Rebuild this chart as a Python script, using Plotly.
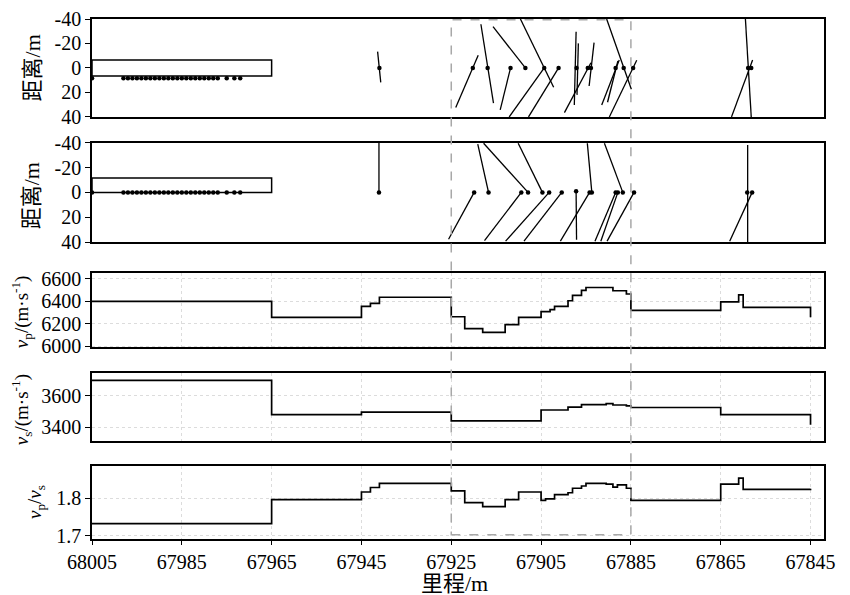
import plotly.graph_objects as go

# ---------------- data ----------------
# Panel 1 (top): segments (x0, y0, x1, y1) and dots
p1_x0 = [67941.4, 67924.0, 67918.4, 67911.8, 67915.7, 67909.6, 67912.1, 67907.8, 67897.2, 67896.7,
         67899.8, 67893.2, 67890.4, 67891.5, 67890.2, 67889.8, 67859.5, 67862.6]
p1_y0 = [-13.3, 32.4, -35.7, 0, -33.7, -40, 40, 40, -29.6, -20.1, 36.5, -20.7, -40, 30.2, 28, 40, -40, 40]
p1_x1 = [67940.7, 67919.0, 67915.6, 67914.1, 67908.5, 67902.2, 67904.3, 67901.1, 67897.6, 67897.0,
         67893.9, 67894.3, 67884.9, 67887.6, 67887.9, 67883.7, 67858.2, 67857.9]
p1_y1 = [11.8, -10.4, 28.8, 34.3, 0, 15.8, 0, 0, 30.2, 22, -4.3, 14.7, 17.4, -6.5, -5.7, -6.3, 40, -6.5]
p1_dot_x = [67941, 67920.2, 67916.9, 67911.8, 67908.5, 67904.3, 67901.1, 67897.1, 67894.6, 67893.9,
            67888.4, 67886.6, 67884.5, 67858.9, 67858.2]
p1_dot_y = [0, 0, 0, 0, 0, 0, 0, 0, 0, 0, 0, 0, 0, 0, 0]

# left row of points (both distance panels)
row_x = [68005, 67998, 67997, 67996, 67995, 67994, 67993, 67992, 67991, 67990, 67989, 67988,
         67987, 67986, 67985, 67984, 67983, 67982, 67981, 67980, 67979, 67978, 67977,
         67975, 67973.3, 67972]
row_y1 = [8.4] * 26
row_y2 = [0] * 26

# rectangles (left) : x-range and y-range
rect1_x = [68005, 67965]
rect1_y = [-6.5, 6.5]
rect2_x = [68005, 67965]
rect2_y = [-11.5, 0]

# Panel 2: segments and dots
p2_x0 = [67941.1, 67925.6, 67919.1, 67917.8, 67917.6, 67910.1, 67912.9, 67908.8, 67897.2, 67900.7,
         67894.7, 67893.0, 67891.7, 67890.9, 67890.3, 67859.0, 67863.0]
p2_y0 = [-40, 37.6, -38.7, -39.5, 38.7, -39.5, 39.2, 39.2, 0, 39.2, -39.5, 39.2, 39.2, -39.5, 39.2, -38, 39.2]
p2_x1 = [67941.1, 67919.9, 67916.7, 67907.9, 67909.4, 67904.7, 67903.2, 67900.4, 67897.1, 67894.2,
         67893.7, 67888.4, 67887.9, 67886.8, 67884.3, 67859.0, 67858.0]
p2_y1 = [0, 0, 0, 0, 0, 0, 0, 0, 38, 0, 0, 0, 0, 0, 0, 40, 0]
p2_dot_x = [67941.1, 67919.9, 67916.7, 67909.4, 67907.9, 67904.7, 67903.2, 67900.4, 67897.2, 67894.2,
            67893.7, 67888.4, 67887.9, 67886.8, 67884.3, 67859.1, 67858.0]
p2_dot_y = [0, 0, 0, 0, 0, 0, 0, 0, -1, 0, 0, 0, 0, 0, 0, 0, 0]

# vp step profile: boundaries and values
vp_b = [68005, 67965, 67945, 67943, 67941, 67925, 67922, 67918, 67913, 67910, 67905, 67903, 67902,
        67899, 67898, 67896, 67895, 67889, 67886, 67885, 67865, 67861, 67860, 67845]
vp_v = [6400, 6258, 6355, 6381, 6436, 6263, 6157, 6125, 6193, 6258, 6308, 6326, 6355, 6405, 6453,
        6497, 6523, 6494, 6465, 6320, 6396, 6458, 6346]
vp_end = 6258

# vs step profile
vs_b = [68005, 67965, 67945, 67925, 67905, 67899, 67896, 67890.5, 67889, 67886, 67885, 67865, 67845]
vs_v = [3698, 3479, 3496, 3440, 3509, 3528, 3543, 3550, 3541, 3535, 3525, 3479]
vs_end = 3415

# vp/vs step profile
r_b = [68005, 67965, 67945, 67943, 67941, 67925, 67922, 67918, 67913, 67910, 67905, 67904, 67902,
       67899, 67898, 67896, 67895, 67890.5, 67889, 67888, 67886, 67885, 67865, 67861, 67860, 67845]
r_v = [1.733, 1.797, 1.817, 1.829, 1.840, 1.820, 1.789, 1.778, 1.797, 1.817, 1.795, 1.799, 1.810,
       1.815, 1.827, 1.833, 1.840, 1.838, 1.830, 1.836, 1.827, 1.795, 1.838, 1.854, 1.824]
r_end = 1.826

x_ticks = [68005, 67985, 67965, 67945, 67925, 67905, 67885, 67865, 67845]
dist_ticks = [-40, -20, 0, 20, 40]
dist_labels = ["-40", "-20", "0", "20", "40"]
vp_ticks = [6000, 6200, 6400, 6600]
vs_ticks = [3400, 3600]
r_ticks = [1.7, 1.8]
r_labels = ["1.7", "1.8"]
box_x = [67925, 67885]

# ---------------- helpers ----------------
def seg_xy(x0, y0, x1, y1):
    xs, ys = [], []
    for a, b, c, d in zip(x0, y0, x1, y1):
        xs += [a, c, None]
        ys += [b, d, None]
    return xs, ys

def step_xy(b, v, end):
    xs = list(b) + [b[-1]]
    ys = list(v) + [v[-1], end]
    return xs, ys

def rect_xy(rx, ry):
    return ([rx[0], rx[1], rx[1], rx[0], rx[0]], [ry[0], ry[0], ry[1], ry[1], ry[0]])

fig = go.Figure()
lw = 1.3
blk = "black"

# panel 1
rx, ry = rect_xy(rect1_x, rect1_y)
fig.add_trace(go.Scatter(x=rx, y=ry, mode="lines", line=dict(color=blk, width=1.5), xaxis="x", yaxis="y"))
sx, sy = seg_xy(p1_x0, p1_y0, p1_x1, p1_y1)
fig.add_trace(go.Scatter(x=sx, y=sy, mode="lines", line=dict(color=blk, width=lw), xaxis="x", yaxis="y"))
fig.add_trace(go.Scatter(x=p1_dot_x + row_x, y=p1_dot_y + row_y1, mode="markers",
                         marker=dict(color=blk, size=4.5), xaxis="x", yaxis="y"))

# panel 2
rx, ry = rect_xy(rect2_x, rect2_y)
fig.add_trace(go.Scatter(x=rx, y=ry, mode="lines", line=dict(color=blk, width=1.5), xaxis="x2", yaxis="y2"))
sx, sy = seg_xy(p2_x0, p2_y0, p2_x1, p2_y1)
fig.add_trace(go.Scatter(x=sx, y=sy, mode="lines", line=dict(color=blk, width=lw), xaxis="x2", yaxis="y2"))
fig.add_trace(go.Scatter(x=p2_dot_x + row_x, y=p2_dot_y + row_y2, mode="markers",
                         marker=dict(color=blk, size=4.5), xaxis="x2", yaxis="y2"))

# panel 3-5 step profiles
for (b, v, e), ax in [((vp_b, vp_v, vp_end), "3"), ((vs_b, vs_v, vs_end), "4"), ((r_b, r_v, r_end), "5")]:
    xs, ys = step_xy(b, v, e)
    fig.add_trace(go.Scatter(x=xs, y=ys, mode="lines", line=dict(color=blk, width=1.7, shape="hv"),
                             xaxis="x" + ax, yaxis="y" + ax))

# ---------------- layout ----------------
tickfont = dict(family="Liberation Serif, Times New Roman, serif", size=20, color="black")
xr = [68005, 67842]
dom = {
    1: [0.8117, 1.0],
    2: [0.5708, 0.7623],
    3: [0.3683, 0.5112],
    4: [0.1876, 0.3190],
    5: [0.0, 0.1395],
}
yranges = {1: [40, -40], 2: [40, -40], 3: [5990, 6650], 4: [3308, 3745], 5: [1.692, 1.885]}
yticks = {1: dist_ticks, 2: dist_ticks, 3: vp_ticks, 4: vs_ticks, 5: r_ticks}
ytext = {1: dist_labels, 2: dist_labels, 3: [str(t) for t in vp_ticks],
         4: [str(t) for t in vs_ticks], 5: r_labels}

layout = dict(
    width=850, height=595,
    margin=dict(l=84, r=34, t=11, b=64, autoexpand=False),
    paper_bgcolor="white", plot_bgcolor="white",
    showlegend=False,
)
for i in range(1, 6):
    xk = "xaxis" if i == 1 else f"xaxis{i}"
    yk = "yaxis" if i == 1 else f"yaxis{i}"
    grid = i >= 3
    layout[xk] = dict(
        domain=[0, 1], anchor="y" if i == 1 else f"y{i}", range=xr,
        matches=None if i == 1 else "x",
        tickvals=x_ticks, ticktext=[str(t) for t in x_ticks],
        showticklabels=(i == 5), ticks="outside" if i == 5 else "", ticklen=4, tickcolor=blk,
        showline=True, mirror=True, linecolor=blk, linewidth=1.5,
        showgrid=grid, gridcolor="#dcdcdc", griddash="dot", gridwidth=1,
        zeroline=False, tickfont=tickfont, ticklabeloverflow="allow",
    )
    layout[yk] = dict(
        domain=dom[i], anchor="x" if i == 1 else f"x{i}", range=yranges[i],
        tickvals=yticks[i], ticktext=ytext[i], ticks="outside", ticklen=5, tickcolor=blk,
        showline=True, mirror=True, linecolor=blk, linewidth=1.5,
        showgrid=grid, gridcolor="#dcdcdc", griddash="dot", gridwidth=1,
        zeroline=False, tickfont=tickfont, ticklabeloverflow="allow",
    )

fig.update_layout(**layout)

# dashed grey box across panels
fig.add_shape(type="rect", xref="x", yref="paper", x0=box_x[0], x1=box_x[1], y0=0.0083, y1=0.9987,
              line=dict(color="#a8a8a8", width=1.5, dash="dash"), fillcolor="rgba(0,0,0,0)", layer="above")

tfont = dict(family="Liberation Serif, Noto Sans CJK SC, serif", size=22, color="black")
vfont = dict(family="Liberation Serif, Times New Roman, serif", size=19, color="black")
ann = [
    ("距离/m", -0.0815, 0.9057, -90, tfont),
    ("距离/m", -0.0815, 0.6598, -90, tfont),
    ("<i>v</i><sub>p</sub>/(m·s<sup>-1</sup>)", -0.0965, 0.4369, -90, vfont),
    ("<i>v</i><sub>s</sub>/(m·s<sup>-1</sup>)", -0.0965, 0.2485, -90, vfont),
    ("<i>v</i><sub>p</sub>/<i>v</i><sub>s</sub>", -0.0774, 0.0717, -90, vfont),
    ("里程/m", 0.4959, -0.086, 0, tfont),
]
for txt, x, y, ang, f in ann:
    fig.add_annotation(text=txt, xref="paper", yref="paper", x=x, y=y, showarrow=False,
                       textangle=ang, xanchor="center", yanchor="middle", font=f)

fig.write_html("out.html")
